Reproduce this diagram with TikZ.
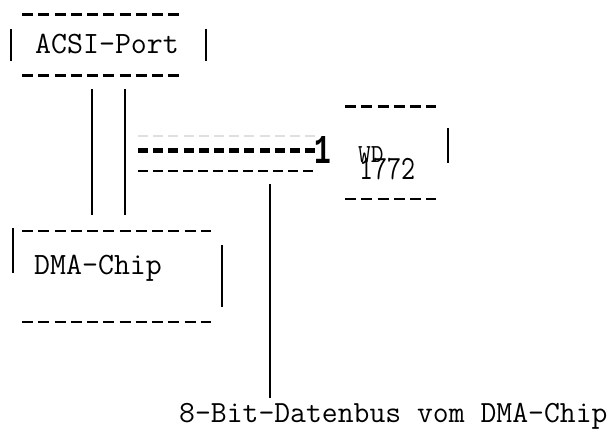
\documentclass[tikz,border=0pt]{standalone}
\usepackage{fontspec}
\newfontfamily\onefont{Liberation Mono}
\begin{document}
\begin{tikzpicture}[x=1pt,y=-1pt,
  lbl/.style={inner sep=0pt, anchor=base west, font=\ttfamily\fontsize{31}{31}\selectfont},
  bar/.style={line width=2.6pt},
  wire/.style={line width=2pt},
  boxdsh/.style={line width=2.8pt, dash pattern=on 11pt off 5.25pt},
  bolddsh/.style={line width=4.5pt, dash pattern=on 10pt off 5.2pt},
  thindsh/.style={line width=1.6pt, dash pattern=on 10pt off 5pt},
  faintdsh/.style={line width=2pt, draw=black!12, dash pattern=on 10pt off 5.2pt},
]
\useasboundingbox (0,0) rectangle (615,428);
% texts
\node[lbl] (acsi) at (35,54) {ACSI-Port};
\node[lbl] (dma) at (34,274) {DMA-Chip};
\node[lbl, font=\ttfamily\fontsize{26}{26}\selectfont, xscale=0.95] (wd) at (358,162) {WD};
\node[lbl, font=\ttfamily\fontsize{34}{34}\selectfont, xscale=0.8] (num) at (359,179) {1772};
\node[lbl, font=\onefont\bfseries\fontsize{41}{41}\selectfont, xscale=0.68] (one) at (314,163) {1};
\node[lbl, font=\ttfamily\fontsize{30.8}{30.8}\selectfont] (bus) at (179,422) {8-Bit-Datenbus vom DMA-Chip};
% ACSI box
\draw[boxdsh] (22,14.5) -- (180,14.5);
\draw[boxdsh] (22,75.5) -- (180,75.5);
\draw[bar] (11,29) -- (11,61);
\draw[bar] (206,29) -- (206,61);
% DMA box
\draw[boxdsh] (22,231) -- (211,231);
\draw[boxdsh] (22,322) -- (211,322);
\draw[bar] (13,228) -- (13,273);
\draw[bar] (222,245) -- (222,307);
% WD box
\draw[boxdsh] (345,106.5) -- (436,106.5);
\draw[boxdsh] (345,199) -- (436,199);
\draw[bar] (448,128) -- (448,163);
% connections ACSI - DMA
\coordinate (a1) at (92,89); \coordinate (d1) at (92,215);
\coordinate (a2) at (125,89); \coordinate (d2) at (125,215);
\draw[wire] (a1) -- (d1);
\draw[wire] (a2) -- (d2);
% bus lines
\coordinate (f0) at (138,136); \coordinate (f1) at (315,136);
\coordinate (b0) at (138,150.5); \coordinate (b1) at (315,150.5);
\coordinate (t0) at (138,171); \coordinate (t1) at (313,171);
\draw[faintdsh] (f0) -- (f1);
\draw[bolddsh] (b0) -- (b1);
\draw[thindsh] (t0) -- (t1);
\coordinate (v0) at (270,184);
\draw[wire] (v0) -- (v0 |- 0,398);
\end{tikzpicture}
\end{document}
